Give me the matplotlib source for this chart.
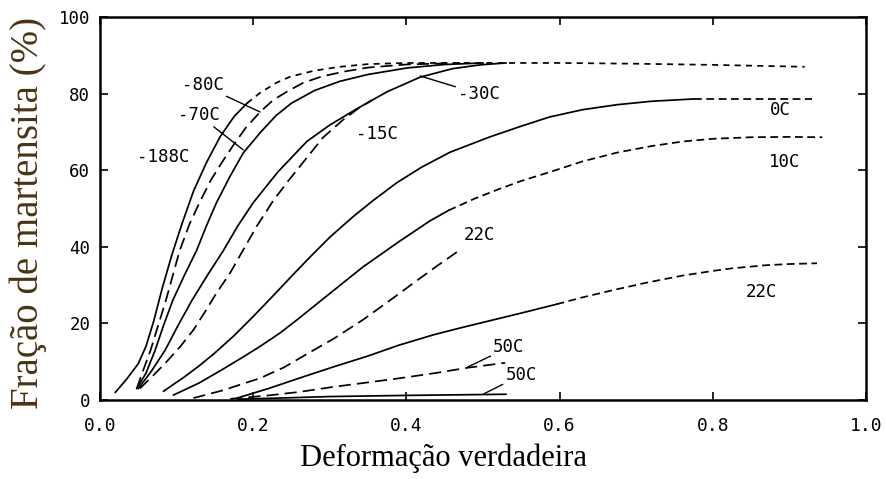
import matplotlib
matplotlib.use("Agg")
import matplotlib.pyplot as plt

# ---- data (true strain, martensite %) ----
m188_solid_x = [0.020, 0.035, 0.050, 0.060, 0.070, 0.081, 0.094, 0.107, 0.122, 0.139, 0.157, 0.175, 0.192]
m188_solid_y = [2.0, 5.5, 9.5, 14.0, 20.5, 29.0, 38.0, 46.0, 54.5, 62.0, 68.8, 74.0, 77.5]
m188_dash_x = [0.192, 0.209, 0.230, 0.248, 0.280, 0.313, 0.350, 0.400, 0.500, 0.600, 0.700, 0.800, 0.920]
m188_dash_y = [77.5, 80.2, 82.8, 84.4, 86.0, 87.0, 87.7, 88.0, 88.0, 88.0, 87.8, 87.5, 87.0]

m80_x = [0.048, 0.055, 0.066, 0.076, 0.086, 0.095, 0.104, 0.117, 0.131, 0.145, 0.160, 0.174, 0.190,
         0.209, 0.226, 0.244, 0.265, 0.290, 0.320, 0.350, 0.400, 0.470]
m80_y = [3.0, 7.0, 13.0, 19.5, 26.0, 32.5, 39.0, 46.0, 52.0, 57.5, 62.3, 66.5, 71.0,
         75.2, 78.3, 80.5, 82.8, 84.5, 85.8, 86.8, 87.6, 88.0]

m70_x = [0.048, 0.060, 0.072, 0.083, 0.095, 0.110, 0.126, 0.139, 0.152, 0.170, 0.187, 0.210, 0.230,
         0.250, 0.280, 0.313, 0.350, 0.401, 0.450, 0.500]
m70_y = [3.0, 7.0, 13.0, 19.5, 26.0, 32.5, 39.0, 45.5, 51.5, 58.5, 64.5, 70.0, 74.3,
         77.5, 80.8, 83.2, 85.0, 86.7, 87.6, 88.0]

m30_x = [0.050, 0.067, 0.085, 0.102, 0.120, 0.140, 0.161, 0.180, 0.200, 0.232, 0.270, 0.300, 0.335,
         0.375, 0.418, 0.460, 0.496, 0.530]
m30_y = [3.0, 7.5, 13.0, 19.5, 26.0, 32.5, 39.0, 45.5, 51.5, 59.5, 67.5, 71.8, 76.0,
         80.5, 84.3, 86.5, 87.5, 88.0]

m15_x = [0.052, 0.070, 0.087, 0.105, 0.122, 0.137, 0.152, 0.170, 0.187, 0.205, 0.226, 0.245, 0.265,
         0.291, 0.317, 0.335, 0.355]
m15_y = [3.0, 6.5, 10.0, 14.0, 18.3, 23.0, 27.9, 33.2, 39.2, 45.5, 52.0, 57.0, 62.0,
         68.5, 73.1, 75.8, 78.3]

c0_solid_x = [0.083, 0.110, 0.130, 0.150, 0.175, 0.200, 0.225, 0.250, 0.275, 0.300, 0.330, 0.356,
              0.388, 0.420, 0.457, 0.509, 0.550, 0.587, 0.630, 0.675, 0.720, 0.775]
c0_solid_y = [2.3, 6.0, 9.0, 12.3, 16.8, 21.8, 27.0, 32.3, 37.5, 42.5, 47.8, 52.0,
              56.8, 60.8, 64.7, 68.7, 71.5, 73.9, 75.8, 77.1, 78.0, 78.6]
c0_dash_x = [0.775, 0.850, 0.930]
c0_dash_y = [78.6, 78.6, 78.6]

c10_solid_x = [0.096, 0.130, 0.160, 0.185, 0.209, 0.235, 0.257, 0.300, 0.343, 0.390, 0.431, 0.455]
c10_solid_y = [1.3, 4.5, 8.0, 11.0, 14.0, 17.5, 20.9, 27.8, 34.7, 41.3, 46.8, 49.5]
c10_dash_x = [0.455, 0.487, 0.520, 0.550, 0.587, 0.630, 0.675, 0.720, 0.761, 0.800, 0.849, 0.900, 0.943]
c10_dash_y = [49.5, 52.4, 55.0, 57.2, 59.5, 62.3, 64.6, 66.3, 67.5, 68.2, 68.6, 68.7, 68.6]

c22a_x = [0.122, 0.160, 0.209, 0.240, 0.270, 0.305, 0.343, 0.375, 0.409, 0.440, 0.470]
c22a_y = [0.5, 2.5, 5.7, 8.5, 12.0, 16.0, 20.9, 25.5, 30.5, 35.0, 39.2]

c22b_solid_x = [0.179, 0.220, 0.260, 0.304, 0.350, 0.390, 0.435, 0.470, 0.509, 0.550, 0.596]
c22b_solid_y = [0.5, 3.0, 5.7, 8.6, 11.5, 14.3, 17.0, 18.8, 20.7, 22.7, 25.0]
c22b_dash_x = [0.596, 0.630, 0.670, 0.715, 0.761, 0.800, 0.826, 0.870, 0.900, 0.936]
c22b_dash_y = [25.0, 26.8, 28.7, 30.7, 32.5, 33.7, 34.4, 35.2, 35.5, 35.7]

c50a_x = [0.170, 0.220, 0.260, 0.304, 0.350, 0.392, 0.440, 0.479, 0.529]
c50a_y = [0.3, 1.2, 2.1, 3.4, 4.6, 5.7, 7.1, 8.4, 9.7]

c50b_x = [0.180, 0.250, 0.300, 0.400, 0.530]
c50b_y = [0.2, 0.6, 0.9, 1.2, 1.5]

x_ticks = [0.0, 0.2, 0.4, 0.6, 0.8, 1.0]
x_tick_labels = ["0.0", "0.2", "0.4", "0.6", "0.8", "1.0"]
y_ticks = [0, 20, 40, 60, 80, 100]
y_tick_labels = ["0", "20", "40", "60", "80", "100"]

# ---- figure ----
fig = plt.figure(figsize=(8.87, 4.79), dpi=100)
ax = fig.add_axes([100 / 887, 1 - 400 / 479, 766 / 887, 383 / 479])

LW = 1.25
K = "black"
long_dash = (0, (7, 3.5))
short_dash = (0, (3.5, 3.0))
mid_dash = (0, (4.5, 2.6))

ax.plot(m188_solid_x, m188_solid_y, color=K, lw=LW)
ax.plot(m188_dash_x, m188_dash_y, color=K, lw=LW, linestyle=short_dash)
ax.plot(m80_x, m80_y, color=K, lw=LW, linestyle=long_dash)
ax.plot(m70_x, m70_y, color=K, lw=LW)
ax.plot(m30_x, m30_y, color=K, lw=LW)
ax.plot(m15_x, m15_y, color=K, lw=LW, linestyle=long_dash)
ax.plot(c0_solid_x, c0_solid_y, color=K, lw=LW)
ax.plot(c0_dash_x, c0_dash_y, color=K, lw=LW, linestyle=mid_dash)
ax.plot(c10_solid_x, c10_solid_y, color=K, lw=LW)
ax.plot(c10_dash_x, c10_dash_y, color=K, lw=LW, linestyle=mid_dash)
ax.plot(c22a_x, c22a_y, color=K, lw=LW, linestyle=long_dash)
ax.plot(c22b_solid_x, c22b_solid_y, color=K, lw=LW)
ax.plot(c22b_dash_x, c22b_dash_y, color=K, lw=LW, linestyle=mid_dash)
ax.plot(c50a_x, c50a_y, color=K, lw=LW, linestyle=long_dash)
ax.plot(c50b_x, c50b_y, color=K, lw=LW)

# ---- curve labels ----
lab_font = dict(family="DejaVu Sans Mono", fontsize=12.5, color=K, ha="center", va="center")
line_props = dict(arrowstyle="-", color=K, lw=1.0, shrinkA=0, shrinkB=0)

ax.annotate("-80C", xy=(0.209, 75.2), xytext=(0.134, 82.2), arrowprops=line_props, **lab_font)
ax.annotate("-70C", xy=(0.187, 65.3), xytext=(0.129, 74.4), arrowprops=line_props, **lab_font)
ax.text(0.082, 63.4, "-188C", **lab_font)
ax.annotate("-30C", xy=(0.418, 84.6), xytext=(0.495, 79.9), arrowprops=line_props, **lab_font)
ax.text(0.362, 69.5, "-15C", **lab_font)
ax.text(0.888, 75.7, "0C", **lab_font)
ax.text(0.894, 62.1, "10C", **lab_font)
ax.text(0.495, 43.1, "22C", **lab_font)
ax.text(0.863, 28.2, "22C", **lab_font)
ax.annotate("50C", xy=(0.48, 8.6), xytext=(0.534, 13.8), arrowprops=line_props, **lab_font)
ax.annotate("50C", xy=(0.501, 1.6), xytext=(0.55, 6.5), arrowprops=line_props, **lab_font)

# ---- axes ----
ax.set_xlim(0, 1.0)
ax.set_ylim(0, 100)
ax.set_xticks(x_ticks)
ax.set_xticklabels(x_tick_labels, family="DejaVu Sans Mono", fontsize=13)
ax.set_yticks(y_ticks)
ax.set_yticklabels(y_tick_labels, family="DejaVu Sans Mono", fontsize=12.5)
ax.tick_params(axis="both", direction="in", length=6, width=1.2, top=True, right=True)
ax.tick_params(axis="x", pad=12)
ax.tick_params(axis="y", pad=7)
for s in ax.spines.values():
    s.set_linewidth(1.8)

fig.text(444 / 887, 1 - 458 / 479, "Deformação verdadeira", family="Liberation Serif",
         fontsize=22, ha="center", va="center", color="black")
fig.text(28 / 887, 1 - 213 / 479, "Fração de martensita (%)", family="Liberation Serif",
         fontsize=28, ha="center", va="center", rotation=90, color="#4a3312")

fig.savefig("out.png", dpi=100)
